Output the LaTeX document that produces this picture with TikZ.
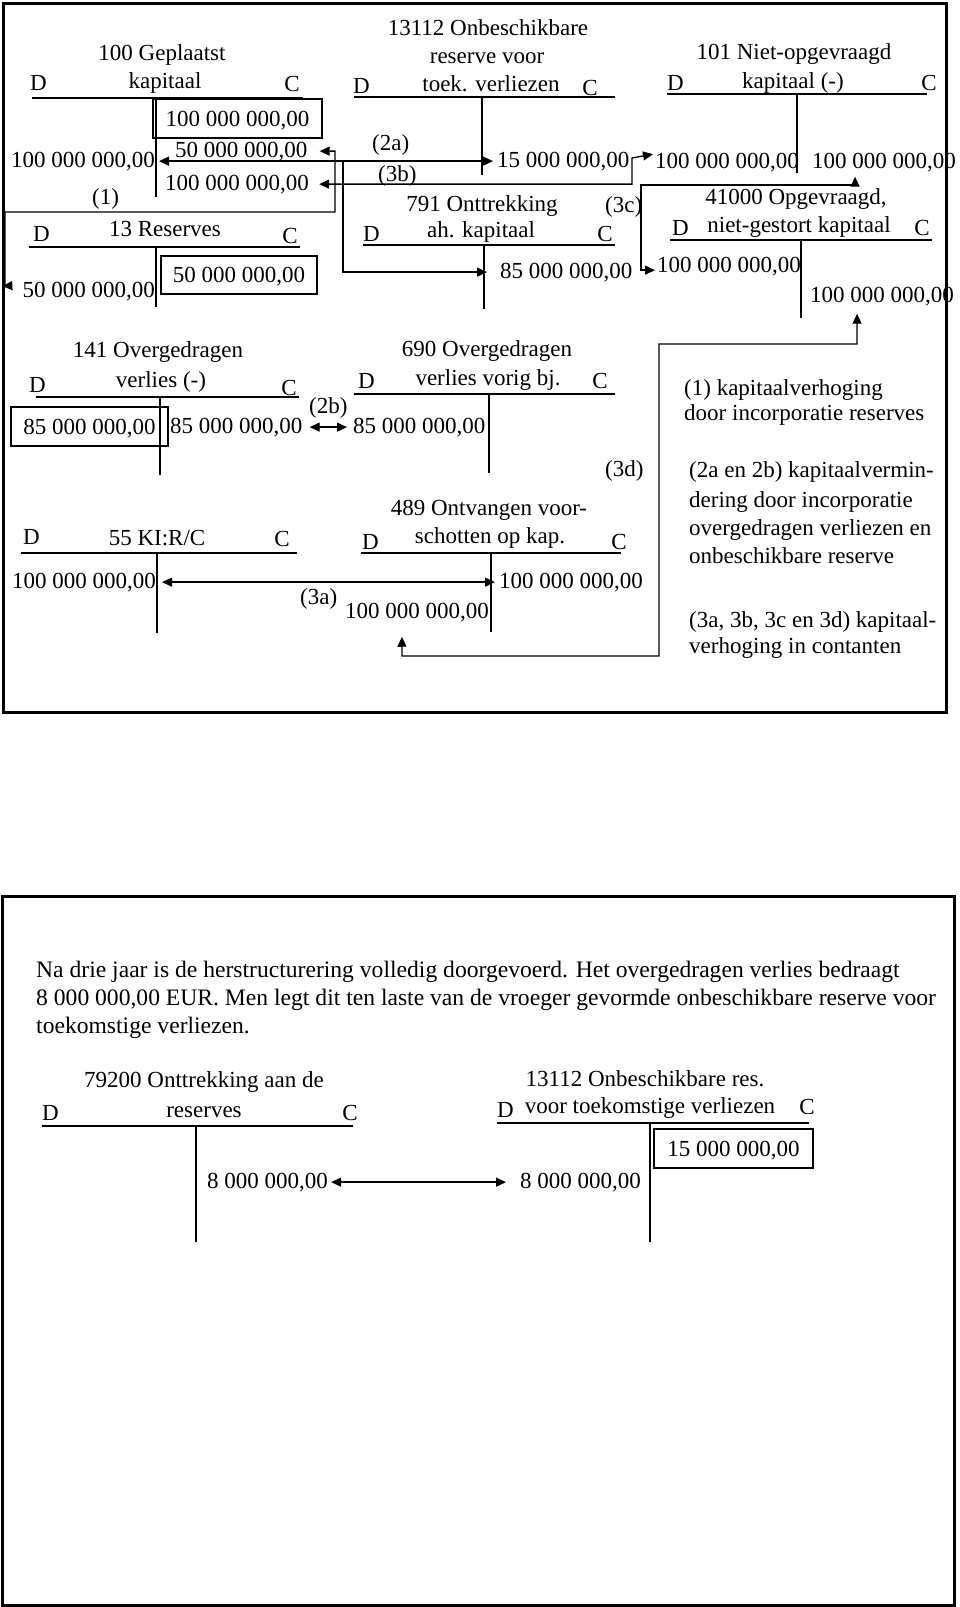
\documentclass[tikz,border=0pt]{standalone}
\usepackage{fontspec}
\setmainfont{Liberation Serif}
\usetikzlibrary{arrows.meta}
\usetikzlibrary{positioning}

\tikzset{
  txt/.style={inner sep=0pt, anchor=base, font=\fontsize{23}{28}\selectfont},
  lft/.style={txt, anchor=base west},
  rgt/.style={txt, anchor=base east},
  par/.style={lft, font=\fontsize{23.6}{28}\selectfont},
  boxed/.style={txt, anchor=center, draw, line width=1.1pt, text depth=0pt},
  frame/.style={line width=3pt},
  tline/.style={line width=1.1pt},
  flow/.style={line width=1.3pt, -{Triangle[length=10pt,width=9pt]}},
  both/.style={line width=1.3pt, {Triangle[length=10pt,width=9pt]}-{Triangle[length=10pt,width=9pt]}}
}

\begin{document}
\begin{tikzpicture}[x=1pt,y=-1pt]
  \useasboundingbox (0,0) rectangle (960,1607);
  \draw[frame] (3,3) rectangle (946,712);
  \draw[frame] (2,896) rectangle (954,1605);

  % 100 Geplaatst kapitaal
  \node[txt] (n100a) at (162,60) {100 Geplaatst};
  \node[txt] (n100b) at (165,88) {kapitaal};
  \node[lft] (d100l) at (30,90) {D};
  \node[rgt] (c100l) at (300,91) {C};
  \draw[tline] (32,98) -- (303,98) (156,98) -- (156,197);
  \node[boxed, minimum width=169pt, minimum height=39pt] (c100a) at (237.5,118.5) {100 000 000,00};
  \node[lft] (c100b) at (175,157) {50 000 000,00};
  \node[lft] (c100c) at (165,190) {100 000 000,00};
  \node[rgt] (d100) at (155,167) {100 000 000,00};
  \node[lft] (l1) at (92,204) {(1)};

  % 13 Reserves
  \node[txt] (n13) at (165,236) {13 Reserves};
  \node[lft] (d13l) at (33,241) {D};
  \node[rgt] (c13l) at (298,243) {C};
  \draw[tline] (29,247) -- (300,247) (156,247) -- (156,307);
  \node[boxed, minimum width=156pt, minimum height=38pt] (c13) at (239,275) {50 000 000,00};
  \node[rgt] (d13) at (155,297) {50 000 000,00};

  % 13112 Onbeschikbare reserve
  \node[txt] (n13112a) at (488,35) {13112 Onbeschikbare};
  \node[txt] (n13112b) at (487,63) {reserve voor};
  \node[txt] (n13112c) at (491,91) {toek. verliezen};
  \node[lft] (d13112l) at (353,93) {D};
  \node[rgt] (c13112l) at (598,95) {C};
  \draw[tline] (354,97) -- (615,97) (482,97) -- (482,175);
  \node[lft] (c13112) at (497,167) {15 000 000,00};
  \node[lft] (l2a) at (372,150) {(2a)};
  \node[lft] (l3b) at (378,181) {(3b)};

  % 791 Onttrekking
  \node[txt] (n791a) at (482,211) {791 Onttrekking};
  \node[txt] (n791b) at (481,237) {ah. kapitaal};
  \node[lft] (d791l) at (363,241) {D};
  \node[rgt] (c791l) at (613,241) {C};
  \draw[tline] (363,245) -- (615,245) (484,245) -- (484,309);
  \node[lft] (c791) at (500,278) {85 000 000,00};
  \node[lft] (l3c) at (605,212) {(3c)};

  % 101 Niet-opgevraagd kapitaal
  \node[txt] (n101a) at (794,59) {101 Niet-opgevraagd};
  \node[txt] (n101b) at (793,88) {kapitaal (-)};
  \node[lft] (d101l) at (667,90) {D};
  \node[rgt] (c101l) at (937,90) {C};
  \draw[tline] (667,94) -- (927,94) (797,94) -- (797,173);
  \node[lft] (d101) at (655,168) {100 000 000,00};
  \node[lft] (c101) at (812,168) {100 000 000,00};

  % 41000 Opgevraagd, niet-gestort kapitaal
  \node[txt] (n410a) at (796,204) {41000 Opgevraagd,};
  \node[txt] (n410b) at (799,232) {niet-gestort kapitaal};
  \node[lft] (d410l) at (672,235) {D};
  \node[rgt] (c410l) at (930,235) {C};
  \draw[tline] (670,240) -- (932,240) (801,240) -- (801,318);
  \node[lft] (d410) at (657,272) {100 000 000,00};
  \node[lft] (c410) at (810,302) {100 000 000,00};

  % 141 Overgedragen verlies
  \node[txt] (n141a) at (158,357) {141 Overgedragen};
  \node[txt] (n141b) at (161,387) {verlies (-)};
  \node[lft] (d141l) at (29,392) {D};
  \node[rgt] (c141l) at (297,395) {C};
  \draw[tline] (36,397) -- (299,397) (160,397) -- (160,475);
  \node[boxed, minimum width=157pt, minimum height=39pt] (d141) at (89.5,426.5) {85 000 000,00};
  \node[lft] (c141) at (170,433) {85 000 000,00};
  \node[lft] (l2b) at (309,413) {(2b)};

  % 690 Overgedragen verlies vorig bj.
  \node[txt] (n690a) at (487,356) {690 Overgedragen};
  \node[txt] (n690b) at (488,385) {verlies vorig bj.};
  \node[lft] (d690l) at (358,388) {D};
  \node[rgt] (c690l) at (608,388) {C};
  \draw[tline] (354,394) -- (615,394) (489,394) -- (489,473);
  \node[lft] (d690) at (353,433) {85 000 000,00};
  \node[lft] (l3d) at (605,476) {(3d)};

  % 55 KI:R/C
  \node[txt] (n55) at (157,545) {55 KI:R/C};
  \node[lft] (d55l) at (23,544) {D};
  \node[rgt] (c55l) at (290,546) {C};
  \draw[tline] (21,553) -- (297,553) (157,553) -- (157,633);
  \node[rgt] (d55) at (156,588) {100 000 000,00};
  \node[lft] (l3a) at (300,604) {(3a)};

  % 489 Ontvangen voorschotten
  \node[txt] (n489a) at (489,515) {489 Ontvangen voor-};
  \node[txt] (n489b) at (490,543) {schotten op kap.};
  \node[lft] (d489l) at (362,549) {D};
  \node[rgt] (c489l) at (627,549) {C};
  \draw[tline] (361,553) -- (621,553) (491,553) -- (491,632);
  \node[lft] (c489) at (499,588) {100 000 000,00};
  \node[rgt] (d489) at (489,618) {100 000 000,00};

  % uitleg
  \node[lft] (e1a) at (684,395) {(1) kapitaalverhoging};
  \node[lft] (e1b) at (684,420) {door incorporatie reserves};
  \node[lft] (e2a) at (689,477) {(2a en 2b) kapitaalvermin-};
  \node[lft] (e2b) at (689,507) {dering door incorporatie};
  \node[lft] (e2c) at (689,535) {overgedragen verliezen en};
  \node[lft] (e2d) at (689,563) {onbeschikbare reserve};
  \node[lft] (e3a) at (689,627) {(3a, 3b, 3c en 3d) kapitaal-};
  \node[lft] (e3b) at (689,653) {verhoging in contanten};

  % boekingen
  \draw[both] ([xshift=12pt]c100b.east) -| (335,212) -| (5,286) -- ([xshift=-20pt,yshift=5pt]d13.west);
  \draw[both] ([xshift=4pt]d100.east) -- ([xshift=-4pt]c13112.west);
  \draw[flow] (343,161) |- ([xshift=-13pt]c791.west);
  \draw[both] ([xshift=10pt]c100c.east) -| (632,158) -- ([xshift=-2pt,yshift=8pt]d101.west);
  \draw[both] ([xshift=-2pt,yshift=-4pt]d410.west) -| (641,185) -| ([xshift=-29pt,yshift=-5pt]c101.south);
  \draw[both] ([xshift=-25pt,yshift=-8pt]c410.south) |- (659,344) |- (402,656) -- ([xshift=-15pt,yshift=-15pt]d489.south);
  \draw[both] ([xshift=7pt]c141.east) -- ([xshift=-6pt]d690.west);
  \draw[both] ([xshift=6pt]d55.east) -- ([xshift=-4pt]c489.west);

  % tweede deel
  \node[par] (p1) at (36,977) {Na drie jaar is de herstructurering volledig doorgevoerd. Het overgedragen verlies bedraagt};
  \node[par] (p2) at (36,1005) {8 000 000,00 EUR. Men legt dit ten laste van de vroeger gevormde onbeschikbare reserve voor};
  \node[par] (p3) at (36,1033) {toekomstige verliezen.};

  % 79200 Onttrekking aan de reserves
  \node[txt] (n792a) at (204,1087) {79200 Onttrekking aan de};
  \node[txt] (n792b) at (204,1117) {reserves};
  \node[lft] (d792l) at (42,1120) {D};
  \node[rgt] (c792l) at (358,1120) {C};
  \draw[tline] (42,1126) -- (353,1126) (196,1126) -- (196,1242);
  \node[lft] (c792) at (207,1188) {8 000 000,00};

  % 13112 Onbeschikbare res.
  \node[txt] (n13112d) at (645,1086) {13112 Onbeschikbare res.};
  \node[txt] (n13112e) at (650,1113) {voor toekomstige verliezen};
  \node[lft] (d13112m) at (497,1117) {D};
  \node[rgt] (c13112m) at (815,1114) {C};
  \draw[tline] (497,1123) -- (809,1123) (650,1123) -- (650,1242);
  \node[boxed, minimum width=159pt, minimum height=39pt] (c13b) at (733.5,1148.5) {15 000 000,00};
  \node[lft] (d13b) at (520,1188) {8 000 000,00};

  \draw[both] ([xshift=3pt]c792.east) -- ([xshift=-14pt]d13b.west);
\end{tikzpicture}
\end{document}
